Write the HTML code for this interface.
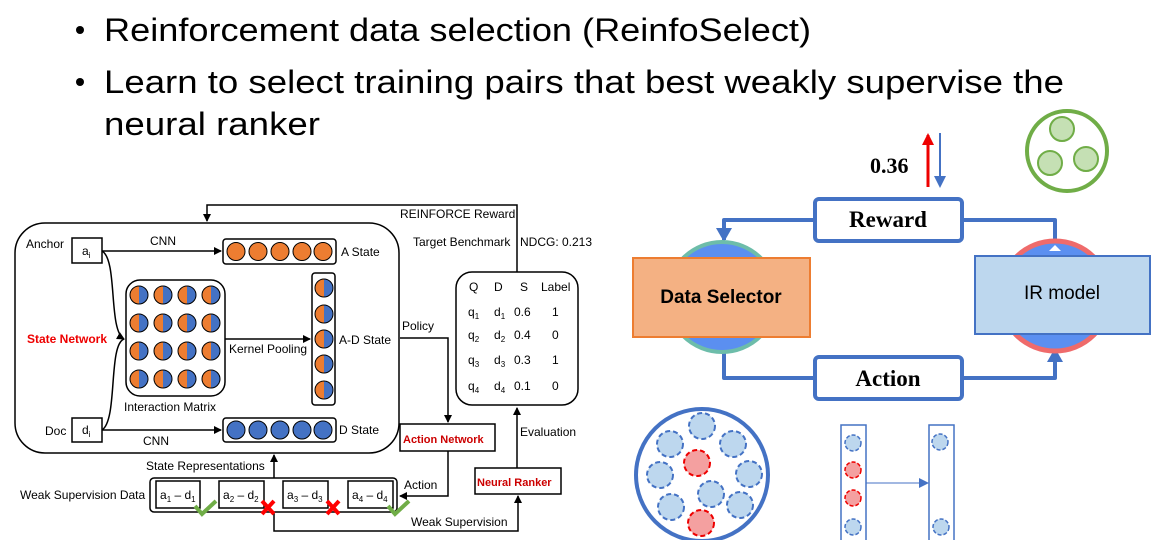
<!DOCTYPE html>
<html><head><meta charset="utf-8"><style>
html,body{margin:0;padding:0;background:#fff;}
svg{display:block;font-family:"Liberation Sans",sans-serif;}
</style></head><body>
<svg width="1152" height="540" viewBox="0 0 1152 540" xmlns="http://www.w3.org/2000/svg">
<defs>
<marker id="ab" markerWidth="8" markerHeight="8" refX="7" refY="4" orient="auto" markerUnits="userSpaceOnUse"><path d="M0,0 L8,4 L0,8 z" fill="#000"/></marker>
<marker id="ablue" markerWidth="10" markerHeight="10" refX="8" refY="5" orient="auto" markerUnits="userSpaceOnUse"><path d="M0,0 L10,5 L0,10 z" fill="#4472c4"/></marker>
<marker id="abl2" markerWidth="16" markerHeight="16" refX="12" refY="8" orient="auto" markerUnits="userSpaceOnUse"><path d="M0,0 L14,8 L0,16 z" fill="#4472c4"/></marker>
<marker id="ared" markerWidth="12" markerHeight="12" refX="10" refY="6" orient="auto" markerUnits="userSpaceOnUse"><path d="M0,0 L12,6 L0,12 z" fill="#e00"/></marker>
<marker id="ab3" markerWidth="12" markerHeight="12" refX="10" refY="6" orient="auto" markerUnits="userSpaceOnUse"><path d="M0,0 L12,6 L0,12 z" fill="#4472c4"/></marker>
<linearGradient id="ob" x1="0" x2="1"><stop offset="0.5" stop-color="#ed7d31"/><stop offset="0.5" stop-color="#4472c4"/></linearGradient>
</defs>

<g font-size="32" fill="#000">
<circle cx="80" cy="30" r="4"/>
<text x="104" y="41" textLength="707" lengthAdjust="spacingAndGlyphs">Reinforcement data selection (ReinfoSelect)</text>
<circle cx="80" cy="82" r="4"/>
<text x="104" y="93" textLength="960" lengthAdjust="spacingAndGlyphs">Learn to select training pairs that best weakly supervise the</text>
<text x="104" y="135" textLength="216" lengthAdjust="spacingAndGlyphs">neural ranker</text>
</g>

<g stroke="#000" fill="none" stroke-width="1.5">
<rect x="15" y="223" width="384" height="230" rx="30"/>
<path d="M517,272 V205 H207 V221" marker-end="url(#ab)"/>
<rect x="456" y="272" width="122" height="133" rx="16"/>
<rect x="72" y="238" width="30" height="25"/>
<rect x="72" y="418" width="30" height="24"/>
<path d="M102,251 H221" marker-end="url(#ab)"/>
<path d="M102,430 H221" marker-end="url(#ab)"/>
<rect x="223" y="239" width="113" height="25" rx="3"/>
<rect x="223" y="418" width="113" height="24" rx="3"/>
<rect x="126" y="280" width="99" height="116" rx="14"/>
<rect x="312" y="273" width="23" height="132" rx="3"/>
<path d="M225,339 H310" marker-end="url(#ab)"/>
<path d="M102,251 C118,260 108,330 124,339" marker-end="url(#ab)"/>
<path d="M102,430 C118,420 108,345 124,339"/>
<path d="M400,338 H448 V422" marker-end="url(#ab)"/>
<rect x="400" y="424" width="95" height="27"/>
<path d="M448,451 V496 H400" marker-end="url(#ab)"/>
<rect x="150" y="478" width="247" height="34" rx="4"/>
<rect x="156" y="481" width="44" height="27"/>
<rect x="219" y="481" width="45" height="27"/>
<rect x="283" y="481" width="45" height="27"/>
<rect x="348" y="481" width="45" height="27"/>
<path d="M274,478 V455" marker-end="url(#ab)"/>
<path d="M274,512 V531 H518 V496" marker-end="url(#ab)"/>
<rect x="475" y="468" width="86" height="26"/>
<path d="M517,468 V408" marker-end="url(#ab)"/>
</g>
<g stroke="#000" stroke-width="1">
<g fill="#ed7d31">
<circle cx="236" cy="251.5" r="9"/><circle cx="258" cy="251.5" r="9"/><circle cx="280" cy="251.5" r="9"/><circle cx="302" cy="251.5" r="9"/><circle cx="323" cy="251.5" r="9"/>
</g>
<g fill="#4472c4">
<circle cx="236" cy="430" r="9"/><circle cx="258" cy="430" r="9"/><circle cx="280" cy="430" r="9"/><circle cx="302" cy="430" r="9"/><circle cx="323" cy="430" r="9"/>
</g>
<g fill="url(#ob)">
<circle cx="139" cy="295" r="9"/><circle cx="163" cy="295" r="9"/><circle cx="187" cy="295" r="9"/><circle cx="211" cy="295" r="9"/>
<circle cx="139" cy="323" r="9"/><circle cx="163" cy="323" r="9"/><circle cx="187" cy="323" r="9"/><circle cx="211" cy="323" r="9"/>
<circle cx="139" cy="351" r="9"/><circle cx="163" cy="351" r="9"/><circle cx="187" cy="351" r="9"/><circle cx="211" cy="351" r="9"/>
<circle cx="139" cy="379" r="9"/><circle cx="163" cy="379" r="9"/><circle cx="187" cy="379" r="9"/><circle cx="211" cy="379" r="9"/>
<circle cx="324" cy="288" r="9"/><circle cx="324" cy="314" r="9"/><circle cx="324" cy="339" r="9"/><circle cx="324" cy="364" r="9"/><circle cx="324" cy="390" r="9"/>
</g>
</g>
<g font-size="12" fill="#000">
<text x="400" y="218">REINFORCE  Reward</text>
<text x="413" y="246">Target Benchmark</text>
<text x="520" y="246">NDCG: 0.213</text>
<text x="26" y="248">Anchor</text>
<text x="82" y="255">a<tspan font-size="8" dy="3">i</tspan></text>
<text x="45" y="435">Doc</text>
<text x="82" y="434">d<tspan font-size="8" dy="3">i</tspan></text>
<text x="150" y="245">CNN</text>
<text x="143" y="445">CNN</text>
<text x="341" y="256">A State</text>
<text x="339" y="344">A-D State</text>
<text x="339" y="434">D State</text>
<text x="229" y="353">Kernel Pooling</text>
<text x="124" y="411">Interaction Matrix</text>
<text x="27" y="343" fill="#e00" font-weight="bold">State Network</text>
<text x="402" y="330">Policy</text>
<text x="404" y="489">Action</text>
<text x="146" y="470">State Representations</text>
<text x="20" y="499">Weak Supervision Data</text>
<text x="411" y="526">Weak Supervision</text>
<text x="520" y="436">Evaluation</text>
<text x="403" y="443" fill="#c00" font-weight="bold" font-size="11">Action Network</text>
<text x="477" y="486" fill="#c00" font-weight="bold" font-size="11">Neural Ranker</text>
<text x="469" y="291">Q</text><text x="494" y="291">D</text><text x="520" y="291">S</text><text x="541" y="291">Label</text>
<text x="468" y="316">q<tspan font-size="8" dy="3">1</tspan></text><text x="494" y="316">d<tspan font-size="8" dy="3">1</tspan></text><text x="514" y="316">0.6</text><text x="552" y="316">1</text>
<text x="468" y="339">q<tspan font-size="8" dy="3">2</tspan></text><text x="494" y="339">d<tspan font-size="8" dy="3">2</tspan></text><text x="514" y="339">0.4</text><text x="552" y="339">0</text>
<text x="468" y="364">q<tspan font-size="8" dy="3">3</tspan></text><text x="494" y="364">d<tspan font-size="8" dy="3">3</tspan></text><text x="514" y="364">0.3</text><text x="552" y="364">1</text>
<text x="468" y="390">q<tspan font-size="8" dy="3">4</tspan></text><text x="494" y="390">d<tspan font-size="8" dy="3">4</tspan></text><text x="514" y="390">0.1</text><text x="552" y="390">0</text>
<text x="160" y="499">a<tspan font-size="8" dy="3">1</tspan><tspan dy="-3"> – d</tspan><tspan font-size="8" dy="3">1</tspan></text>
<text x="223" y="499">a<tspan font-size="8" dy="3">2</tspan><tspan dy="-3"> – d</tspan><tspan font-size="8" dy="3">2</tspan></text>
<text x="287" y="499">a<tspan font-size="8" dy="3">3</tspan><tspan dy="-3"> – d</tspan><tspan font-size="8" dy="3">3</tspan></text>
<text x="352" y="499">a<tspan font-size="8" dy="3">4</tspan><tspan dy="-3"> – d</tspan><tspan font-size="8" dy="3">4</tspan></text>
</g>
<g stroke="#70ad47" stroke-width="4" fill="none">
<path d="M195,506 L202,514 L216,501"/><path d="M388,506 L395,514 L409,501"/>
</g>
<g stroke="#f00" stroke-width="4">
<path d="M262,501 L274,514 M274,501 L262,514"/><path d="M327,501 L339,514 M339,501 L327,514"/>
</g>

<text x="870" y="173" font-family="Liberation Serif,serif" font-weight="bold" font-size="22">0.36</text>
<path d="M928,187 V135" stroke="#e00" stroke-width="3" marker-end="url(#ared)"/>
<path d="M940,133 V186" stroke="#4472c4" stroke-width="2" marker-end="url(#ab3)"/>
<circle cx="1067" cy="151" r="40" fill="none" stroke="#70ad47" stroke-width="4"/>
<g fill="#c5e0b4" stroke="#70ad47" stroke-width="2">
<circle cx="1062" cy="129" r="12"/><circle cx="1050" cy="163" r="12"/><circle cx="1086" cy="159" r="12"/>
</g>
<g stroke="#4472c4" stroke-width="4" fill="none" stroke-linejoin="round">
<path d="M815,220 H724 V240" marker-end="url(#abl2)"/>
<path d="M962,220 H1055 V245"/>
<path d="M724,337 V378 H815"/>
<path d="M962,378 H1055 V350" marker-end="url(#abl2)"/>
</g>
<circle cx="722" cy="297" r="55" fill="#5b8ff0" stroke="#6dbdaa" stroke-width="4"/>
<circle cx="1055" cy="296" r="55" fill="#5b8ff0" stroke="#ef6b6b" stroke-width="5"/>
<path d="M1049,251 L1055,245 L1061,251 z" fill="#fff"/>
<rect x="633" y="258" width="177" height="79" fill="#f4b183" stroke="#ed7d31" stroke-width="2"/>
<text x="721" y="303" text-anchor="middle" font-weight="bold" font-size="19">Data Selector</text>
<rect x="975" y="256" width="175" height="78" fill="#bdd7ee" stroke="#4472c4" stroke-width="2"/>
<text x="1062" y="299" text-anchor="middle" font-size="19">IR model</text>
<rect x="815" y="199" width="147" height="42" rx="4" fill="#fff" stroke="#4472c4" stroke-width="4"/>
<text x="888" y="227" text-anchor="middle" font-family="Liberation Serif,serif" font-weight="bold" font-size="23">Reward</text>
<rect x="815" y="357" width="147" height="42" rx="4" fill="#fff" stroke="#4472c4" stroke-width="4"/>
<text x="888" y="386" text-anchor="middle" font-family="Liberation Serif,serif" font-weight="bold" font-size="23">Action</text>

<circle cx="702" cy="475" r="66" fill="#fff" stroke="#4472c4" stroke-width="4"/>
<g stroke-width="2" stroke-dasharray="5,3">
<g fill="#bdd7ee" stroke="#4472c4">
<circle cx="702" cy="426" r="13"/><circle cx="670" cy="444" r="13"/><circle cx="733" cy="444" r="13"/>
<circle cx="660" cy="475" r="13"/><circle cx="749" cy="474" r="13"/><circle cx="711" cy="494" r="13"/>
<circle cx="671" cy="507" r="13"/><circle cx="740" cy="505" r="13"/>
</g>
<g fill="#f4a0a0" stroke="#e00">
<circle cx="697" cy="463" r="13"/><circle cx="701" cy="523" r="13"/>
</g>
</g>
<rect x="841" y="425" width="25" height="120" fill="none" stroke="#4472c4" stroke-width="1.5"/>
<rect x="929" y="425" width="25" height="120" fill="none" stroke="#4472c4" stroke-width="1.5"/>
<path d="M866,483 H927" stroke="#4472c4" stroke-width="1" marker-end="url(#ablue)"/>
<g stroke-width="1.5" stroke-dasharray="4,2">
<g fill="#bdd7ee" stroke="#4472c4">
<circle cx="853" cy="443" r="8"/><circle cx="853" cy="527" r="8"/><circle cx="940" cy="442" r="8"/><circle cx="941" cy="527" r="8"/>
</g>
<g fill="#f4a0a0" stroke="#e00">
<circle cx="853" cy="470" r="8"/><circle cx="853" cy="498" r="8"/>
</g>
</g>
</svg>
</body></html>
